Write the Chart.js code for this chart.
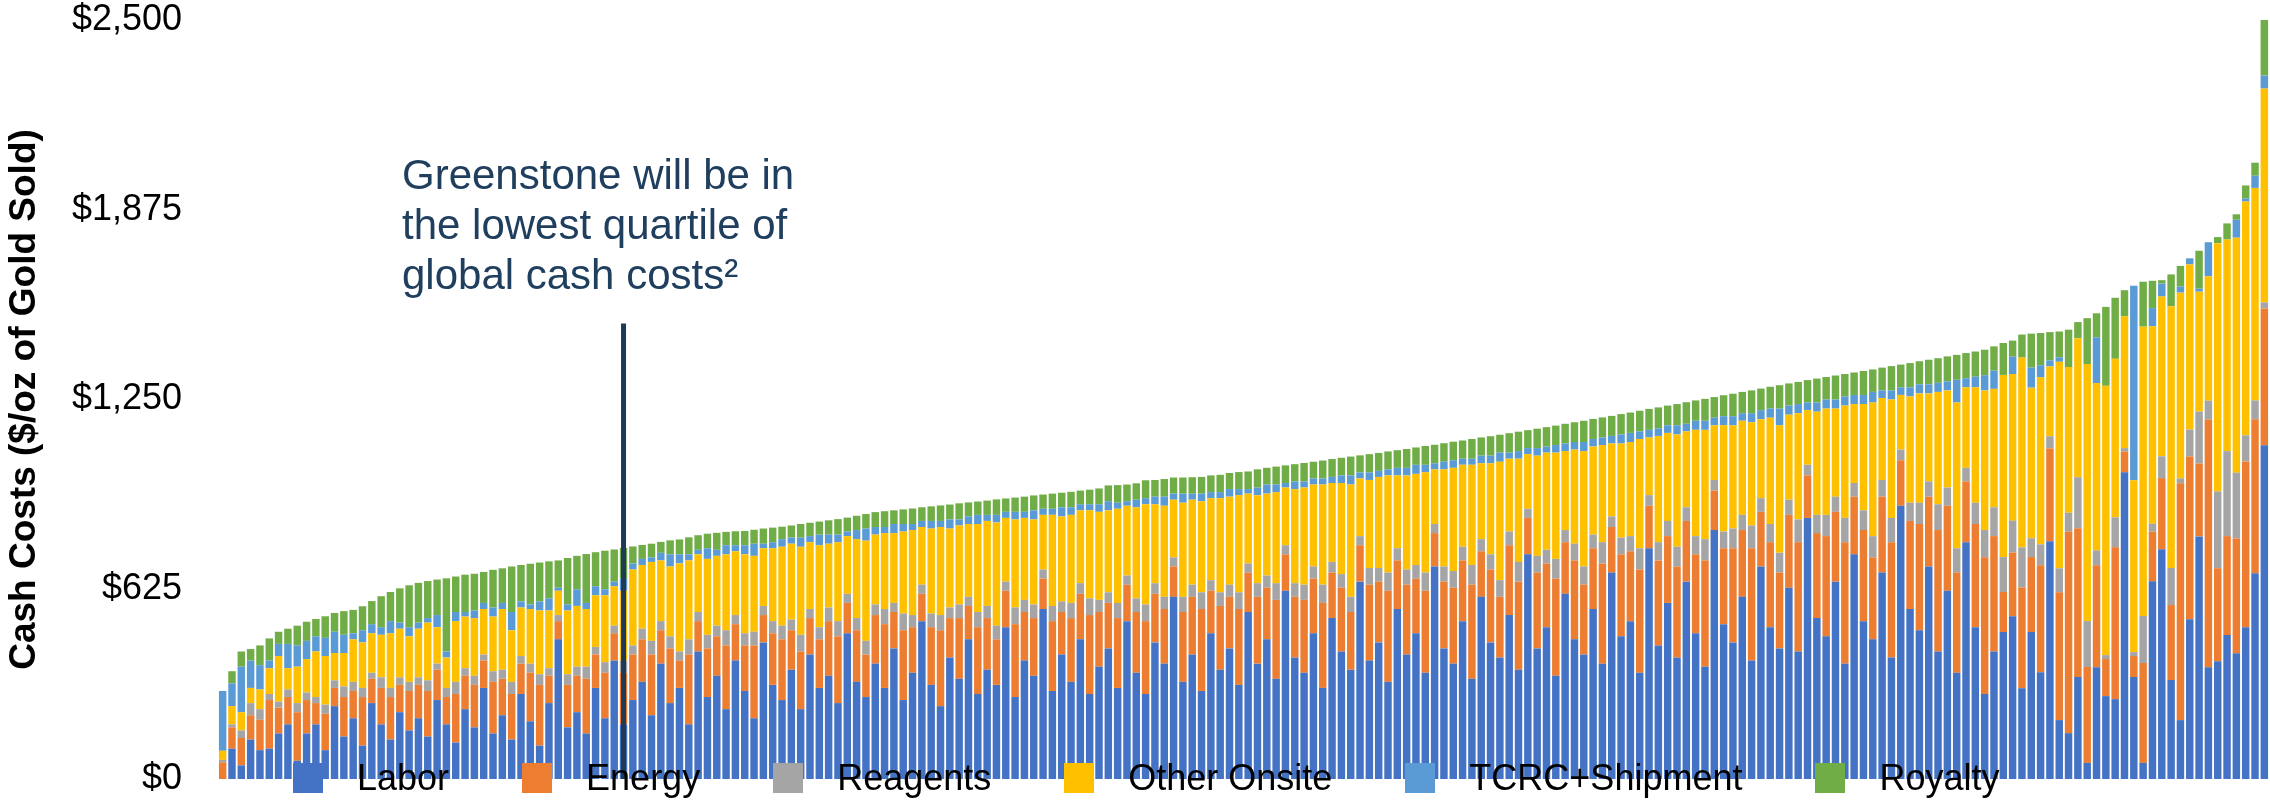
<!DOCTYPE html>
<html>
<head>
<meta charset="utf-8">
<script src="https://cdn.jsdelivr.net/npm/chart.js@4.4.1/dist/chart.umd.min.js"></script>
<style>
  html, body { margin: 0; padding: 0; background: #fff; }
  #wrap { position: relative; width: 2270px; height: 802px; font-family: "Liberation Sans", Arial, sans-serif; }
  #costChart { position: absolute; left: 0; top: 0; }
  .note { position: absolute; left: 402px; top: 150px; font-size: 42px; line-height: 50px; color: #203F5E; white-space: nowrap; }
  .legend { position: absolute; left: 293px; top: 763px; height: 30px; display: flex; align-items: center; font-size: 36px; line-height: 1; color: #000; }
  .legend .item { display: flex; align-items: center; margin-right: 73px; }
  .legend .box { display: inline-block; width: 30px; height: 30px; margin-right: 34px; }
</style>
</head>
<body>
<div id="wrap">
  <canvas id="costChart" width="2270" height="802"></canvas>
  <div class="note">Greenstone will be in<br>the lowest quartile of<br>global cash costs²</div>
  <div class="legend" id="legend"></div>
</div>
<script>
// one bar per mine, sorted by cash cost ($/oz)
const labor = [
  0, 100, 45, 130, 95, 100, 150, 180, 60, 150,
  180, 95, 240, 140, 200, 110, 250, 180, 130, 220,
  160, 200, 140, 260, 180, 120, 230, 170, 300, 150,
  210, 130, 280, 190, 110, 250, 460, 170, 220, 150,
  300, 200, 390, 180, 260, 320, 210, 380, 250, 300,
  180, 420, 270, 340, 230, 390, 290, 200, 450, 310,
  260, 360, 230, 410, 300, 340, 250, 480, 320, 270,
  380, 300, 430, 260, 350, 520, 310, 240, 400, 330,
  460, 280, 360, 310, 500, 270, 390, 340, 560, 290,
  410, 320, 460, 280, 370, 430, 300, 520, 350, 280,
  450, 380, 600, 320, 410, 290, 480, 360, 430, 310,
  550, 380, 460, 330, 620, 400, 350, 480, 300, 530,
  420, 360, 650, 390, 450, 320, 560, 410, 480, 350,
  700, 430, 380, 520, 330, 600, 450, 400, 540, 360,
  740, 430, 500, 340, 610, 460, 410, 560, 380, 680,
  470, 520, 350, 760, 440, 580, 400, 650, 480, 370,
  820, 510, 450, 600, 390, 700, 500, 430, 630, 420,
  860, 530, 470, 650, 380, 740, 520, 460, 680, 400,
  900, 560, 490, 700, 420, 620, 350, 780, 500, 280,
  420, 484, 536, 299, 484, 352, 783, 194, 151, 336,
  53, 368, 273, 263, 1010, 336, 53, 651, 757, 326,
  194, 526, 799, 368, 388, 474, 414, 500, 678, 1099
];
const energy = [
  55, 70, 90, 80, 100, 160, 85, 90, 160, 110,
  70, 120, 60, 130, 90, 160, 80, 120, 140, 90,
  130, 110, 150, 100, 90, 160, 110, 140, 90, 170,
  120, 150, 100, 160, 200, 90, 60, 140, 120, 180,
  110, 150, 90, 170, 150, 140, 200, 110, 180, 90,
  230, 100, 160, 130, 210, 120, 150, 240, 90, 170,
  200, 130, 190, 120, 160, 180, 220, 100, 170, 140,
  160, 210, 120, 230, 150, 90, 190, 250, 130, 200,
  110, 220, 170, 150, 120, 240, 160, 190, 100, 230,
  140, 210, 150, 260, 180, 150, 230, 120, 200, 240,
  160, 180, 100, 230, 190, 270, 140, 210, 170, 250,
  130, 220, 170, 260, 120, 200, 240, 180, 280, 150,
  210, 190, 120, 250, 200, 300, 160, 230, 180, 270,
  110, 220, 250, 200, 310, 150, 240, 200, 230, 290,
  120, 250, 210, 320, 170, 260, 230, 200, 330, 150,
  270, 230, 340, 140, 280, 220, 300, 200, 260, 350,
  130, 250, 310, 220, 370, 180, 280, 250, 240, 360,
  140, 280, 330, 230, 400, 190, 300, 270, 250, 380,
  150, 290, 350, 230, 400, 280, 330, 200, 340, 450,
  380, 132, 210, 332, 247, 352, 306, 421, 664, 490,
  316, 336, 122, 500, 69, 69, 329, 164, 234, 247,
  780, 536, 240, 816, 306, 326, 378, 546, 507, 451
];
const reagents = [
  8, 10, 25, 40, 35, 20, 20, 25, 30, 25,
  20, 30, 25, 35, 30, 30, 20, 35, 30, 25,
  30, 25, 35, 20, 30, 40, 25, 30, 20, 35,
  30, 40, 25, 30, 35, 25, 20, 35, 30, 40,
  25, 35, 25, 40, 30, 35, 45, 30, 40, 30,
  50, 30, 45, 35, 50, 30, 40, 45, 30, 40,
  45, 35, 55, 30, 40, 45, 50, 30, 40, 45,
  35, 50, 30, 55, 40, 30, 45, 50, 35, 45,
  30, 50, 40, 45, 30, 55, 40, 45, 30, 50,
  35, 50, 35, 55, 40, 35, 50, 30, 45, 55,
  35, 40, 30, 50, 40, 55, 35, 45, 40, 55,
  30, 45, 40, 55, 30, 45, 50, 40, 60, 35,
  45, 50, 30, 55, 45, 60, 40, 50, 45, 60,
  30, 50, 55, 45, 65, 40, 50, 55, 45, 65,
  30, 55, 45, 65, 40, 55, 60, 45, 70, 35,
  55, 50, 70, 35, 60, 50, 65, 45, 60, 70,
  35, 55, 65, 50, 75, 45, 60, 65, 50, 75,
  35, 60, 70, 50, 80, 45, 65, 70, 55, 80,
  35, 60, 70, 50, 85, 60, 80, 45, 70, 90,
  95, 115, 105, 132, 62, 69, 40, 79, 62, 168,
  151, 49, 13, 99, 11, 13, 155, 26, 72, 122,
  16, 89, 171, 62, 253, 280, 217, 86, 62, 20
];
const otherOnsite = [
  30, 60, 60, 50, 65, 85, 150, 70, 120, 110,
  150, 160, 90, 110, 140, 150, 130, 140, 180, 160,
  150, 160, 190, 120, 100, 200, 170, 190, 150, 180,
  200, 170, 160, 180, 210, 190, 80, 210, 200, 190,
  170, 220, 130, 230, 250, 210, 260, 200, 230, 290,
  260, 190, 250, 230, 250, 210, 260, 250, 190, 240,
  260, 250, 290, 220, 270, 210, 260, 190, 260, 330,
  230, 250, 230, 270, 280, 190, 280, 290, 260, 260,
  240, 290, 280, 340, 210, 290, 270, 280, 180, 300,
  280, 290, 240, 290, 290, 270, 310, 230, 300, 330,
  260, 300, 190, 310, 280, 300, 270, 310, 290, 320,
  230, 290, 270, 300, 190, 310, 320, 270, 330, 260,
  300, 370, 190, 290, 300, 320, 240, 310, 300, 330,
  180, 320, 340, 270, 330, 250, 300, 390, 240, 340,
  180, 330, 320, 350, 260, 310, 380, 290, 320, 240,
  310, 310, 360, 190, 350, 290, 370, 250, 350, 360,
  180, 350, 340, 310, 340, 260, 350, 420, 280, 350,
  180, 340, 350, 290, 370, 260, 350, 440, 270, 390,
  180, 350, 360, 290, 370, 320, 480, 265, 380, 460,
  390, 600, 483, 625, 496, 550, 230, 680, 480, 458,
  847, 551, 887, 522, 434, 566, 953, 650, 526, 862,
  612, 544, 395, 410, 818, 697, 774, 770, 700, 704
];
const tcrcShipment = [
  197, 75, 150, 90, 80, 25, 40, 80, 70, 60,
  50, 60, 70, 60, 20, 40, 30, 25, 40, 20,
  30, 20, 15, 40, 20, 30, 15, 25, 20, 30,
  20, 60, 20, 15, 30, 40, 10, 20, 55, 20,
  30, 20, 15, 40, 20, 20, 15, 25, 40, 30,
  20, 15, 35, 20, 30, 20, 30, 40, 15, 20,
  25, 20, 30, 20, 35, 30, 25, 15, 30, 40,
  25, 20, 30, 25, 20, 20, 25, 20, 30, 20,
  25, 30, 20, 25, 20, 25, 20, 30, 20, 20,
  30, 25, 20, 20, 25, 30, 20, 15, 25, 20,
  25, 30, 20, 30, 20, 25, 20, 20, 25, 20,
  15, 25, 30, 25, 15, 25, 20, 20, 20, 20,
  25, 30, 20, 25, 20, 20, 25, 25, 30, 25,
  20, 25, 25, 20, 20, 25, 25, 30, 20, 25,
  20, 25, 20, 25, 25, 25, 30, 25, 25, 25,
  30, 30, 25, 25, 25, 25, 30, 25, 30, 30,
  25, 30, 30, 25, 30, 30, 30, 55, 30, 30,
  25, 30, 30, 30, 30, 30, 30, 35, 25, 30,
  25, 30, 30, 30, 30, 30, 75, 30, 35, 50,
  60, 0, 57, 0, 66, 40, 20, 15, 0, 0,
  0, 151, 0, 0, 0, 641, 0, 60, 43, 0,
  20, 20, 10, 112, 0, 0, 59, 10, 40, 43
];
const royalty = [
  0, 40, 50, 38, 65, 73, 40, 50, 65, 63,
  57, 71, 62, 78, 77, 79, 76, 102, 96, 113,
  138, 131, 122, 117, 241, 117, 123, 121, 102, 124,
  114, 150, 120, 134, 128, 122, 90, 153, 110, 161,
  112, 127, 106, 101, 56, 46, 45, 36, 46, 49,
  56, 48, 48, 56, 44, 46, 47, 46, 50, 48,
  41, 40, 45, 44, 43, 47, 51, 46, 47, 48,
  49, 52, 45, 48, 51, 45, 48, 51, 49, 53,
  46, 44, 47, 51, 44, 47, 50, 49, 47, 50,
  48, 51, 45, 48, 52, 52, 58, 55, 54, 59,
  55, 58, 53, 53, 54, 55, 55, 57, 53, 56,
  58, 60, 55, 59, 58, 57, 61, 55, 59, 59,
  58, 62, 56, 60, 59, 59, 58, 62, 57, 62,
  61, 61, 61, 60, 65, 60, 64, 59, 64, 64,
  59, 64, 64, 64, 65, 65, 70, 66, 66, 66,
  67, 67, 68, 69, 69, 65, 70, 71, 67, 72,
  68, 69, 74, 70, 75, 71, 72, 77, 73, 73,
  74, 79, 74, 79, 74, 74, 79, 74, 75, 80,
  75, 80, 76, 81, 81, 82, 82, 83, 83, 84,
  80, 105, 53, 76, 112, 106, 93, 85, 123, 53,
  151, 79, 260, 201, 86, 0, 148, 90, 11, 105,
  68, 0, 125, 0, 20, 53, 18, 43, 43, 384
];

const seriesNames = ["Labor", "Energy", "Reagents", "Other Onsite", "TCRC+Shipment", "Royalty"];
const seriesColors = ["#4472C4", "#ED7D31", "#A5A5A5", "#FFC000", "#5B9BD5", "#70AD47"];
const yTicks = [0, 625, 1250, 1875, 2500];
const greenstoneIndex = 43;   // bar the marker sits on
const greenstoneTop = 1500;   // marker line runs from here down to $0

const mineRank = labor.map((_, i) => String(i + 1));
const seriesData = [labor, energy, reagents, otherOnsite, tcrcShipment, royalty];

const FONT = '"Liberation Sans", Arial, sans-serif';

// vertical marker for Greenstone
const greenstoneLine = {
  id: "greenstoneLine",
  afterDatasetsDraw(chart) {
    const { ctx, scales: { x, y } } = chart;
    const px = x.getPixelForValue(greenstoneIndex);
    ctx.save();
    ctx.strokeStyle = "#1F3A56";
    ctx.lineWidth = 5;
    ctx.beginPath();
    ctx.moveTo(px, y.getPixelForValue(greenstoneTop));
    ctx.lineTo(px, y.getPixelForValue(0));
    ctx.stroke();
    ctx.restore();
  }
};

new Chart(document.getElementById("costChart").getContext("2d"), {
  type: "bar",
  data: {
    labels: mineRank,
    datasets: seriesNames.map((name, k) => ({
      label: name,
      data: seriesData[k],
      backgroundColor: seriesColors[k],
      borderWidth: 0,
      barPercentage: 0.8,
      categoryPercentage: 1.0
    }))
  },
  options: {
    responsive: false,
    animation: false,
    layout: { padding: { top: 0, right: 1, bottom: 23, left: 0 } },
    plugins: { legend: { display: false }, tooltip: { enabled: false } },
    scales: {
      x: { stacked: true, display: false },
      y: {
        stacked: true,
        min: 0,
        max: 2500,
        grid: { display: false, drawTicks: false },
        border: { display: false },
        afterBuildTicks: (scale) => { scale.ticks = yTicks.map(v => ({ value: v })); },
        afterFit: (scale) => {
          scale.width = 218;
          // keep the tick padding from pushing the plot area in
          scale.paddingTop = 20;
          scale.paddingBottom = 0;
        },
        ticks: {
          padding: 36,
          color: "#000",
          font: { family: FONT, size: 36, lineHeight: 1.1 },
          callback: (v) => "$" + Number(v).toLocaleString("en-US")
        },
        title: {
          display: true,
          text: "Cash Costs ($/oz of Gold Sold)",
          color: "#000",
          padding: { top: 3, bottom: 0 },
          font: { family: FONT, size: 37, weight: "bold" }
        }
      }
    }
  },
  plugins: [greenstoneLine]
});

// legend drawn over the bottom of the bars, as in the original
const legendEl = document.getElementById("legend");
seriesNames.forEach((name, k) => {
  const item = document.createElement("span");
  item.className = "item";
  const box = document.createElement("span");
  box.className = "box";
  box.style.background = seriesColors[k];
  item.appendChild(box);
  item.appendChild(document.createTextNode(name));
  legendEl.appendChild(item);
});
</script>
</body>
</html>
